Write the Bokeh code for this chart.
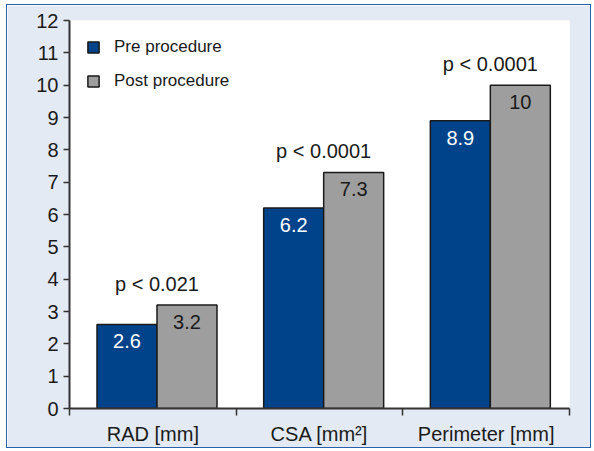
from bokeh.plotting import figure
from bokeh.models import ColumnDataSource, Range1d, FixedTicker, Legend, LegendItem
from bokeh.transform import dodge
from bokeh.core.properties import value
from bokeh.embed import file_html
from bokeh.resources import INLINE

# ---- data ----
categories = ["RAD [mm]", "CSA [mm²]", "Perimeter [mm]"]
pre_values = [2.6, 6.2, 8.9]
post_values = [3.2, 7.3, 10.0]
pre_labels = ["2.6", "6.2", "8.9"]
post_labels = ["3.2", "7.3", "10"]
p_labels = ["p < 0.021", "p < 0.0001", "p < 0.0001"]
series_names = ["Pre procedure", "Post procedure"]
y_ticks = list(range(0, 13))

# ---- styles ----
FONT = "Liberation Sans"
BLUE = "#00438a"
GREY = "#9e9e9e"
BG = "#e3eaf3"
TXT = "#1a1a1a"

xs = [i + 0.5 for i in range(len(categories))]
source = ColumnDataSource(dict(
    x=xs, pre=pre_values, post=post_values,
    pre_lbl=pre_labels, post_lbl=post_labels,
    plbl=p_labels, top=[max(a, b) for a, b in zip(pre_values, post_values)],
))

p = figure(width=585, height=444, x_range=Range1d(0, len(categories)), y_range=Range1d(0, 12),
           output_backend="svg", toolbar_location=None,
           min_border_left=62, min_border_top=15, min_border_right=23, min_border_bottom=41)
p.background_fill_color = "white"
p.border_fill_color = BG
p.outline_line_color = None
p.grid.visible = False
p.styles = {"margin-left": "6px", "margin-top": "4px", "border": "1.5px solid #2762aa"}

r_pre = p.vbar(x=dodge("x", -0.155, range=p.x_range), top="pre", width=0.36, source=source,
               fill_color=BLUE, line_color=TXT, line_width=1.5)
r_post = p.vbar(x=dodge("x", 0.205, range=p.x_range), top="post", width=0.36, source=source,
                fill_color=GREY, line_color=TXT, line_width=1.5)

p.text(x=dodge("x", -0.155, range=p.x_range), y="pre", text="pre_lbl", source=source,
       text_align="center", text_baseline="middle", y_offset=17, text_color="white",
       text_font=value(FONT), text_font_size="20px")
p.text(x=dodge("x", 0.205, range=p.x_range), y="post", text="post_lbl", source=source,
       text_align="center", text_baseline="middle", y_offset=17, text_color=TXT,
       text_font=value(FONT), text_font_size="20px")
p.text(x=dodge("x", 0.025, range=p.x_range), y="top", text="plbl", source=source,
       text_align="center", text_baseline="middle", y_offset=-21, text_color=TXT,
       text_font=value(FONT), text_font_size="20px")

# x axis: labels at centres, ticks at boundaries
xa = p.xaxis[0]
xa.ticker = FixedTicker(ticks=xs, minor_ticks=list(range(len(categories) + 1)))
xa.major_label_overrides = {x: c for x, c in zip(xs, categories)}
xa.major_tick_in = 0
xa.major_tick_out = 0
xa.minor_tick_in = 0
xa.minor_tick_out = 7
xa.minor_tick_line_color = "#333333"
xa.minor_tick_line_width = 1.5
xa.axis_line_color = "#333333"
xa.axis_line_width = 2
xa.major_label_text_font = FONT
xa.major_label_text_font_size = "20px"
xa.major_label_text_color = TXT
xa.major_label_standoff = 7

ya = p.yaxis[0]
ya.ticker = FixedTicker(ticks=y_ticks)
ya.major_tick_in = 0
ya.major_tick_out = 6
ya.major_tick_line_color = "#333333"
ya.major_tick_line_width = 1.5
ya.minor_tick_line_color = None
ya.axis_line_color = "#333333"
ya.axis_line_width = 2
ya.major_label_text_font = FONT
ya.major_label_text_font_size = "20px"
ya.major_label_text_color = TXT
ya.major_label_standoff = 5

legend = Legend(items=[LegendItem(label=series_names[0], renderers=[r_pre]),
                       LegendItem(label=series_names[1], renderers=[r_post])],
                location="top_left", margin=17, padding=10, spacing=14,
                glyph_width=14, glyph_height=14, label_height=14, label_standoff=14,
                label_text_font=FONT, label_text_font_size="17px", label_text_color=TXT,
                border_line_color=None, background_fill_alpha=0)
p.add_layout(legend)

open("out.html", "w").write(file_html(p, INLINE))
